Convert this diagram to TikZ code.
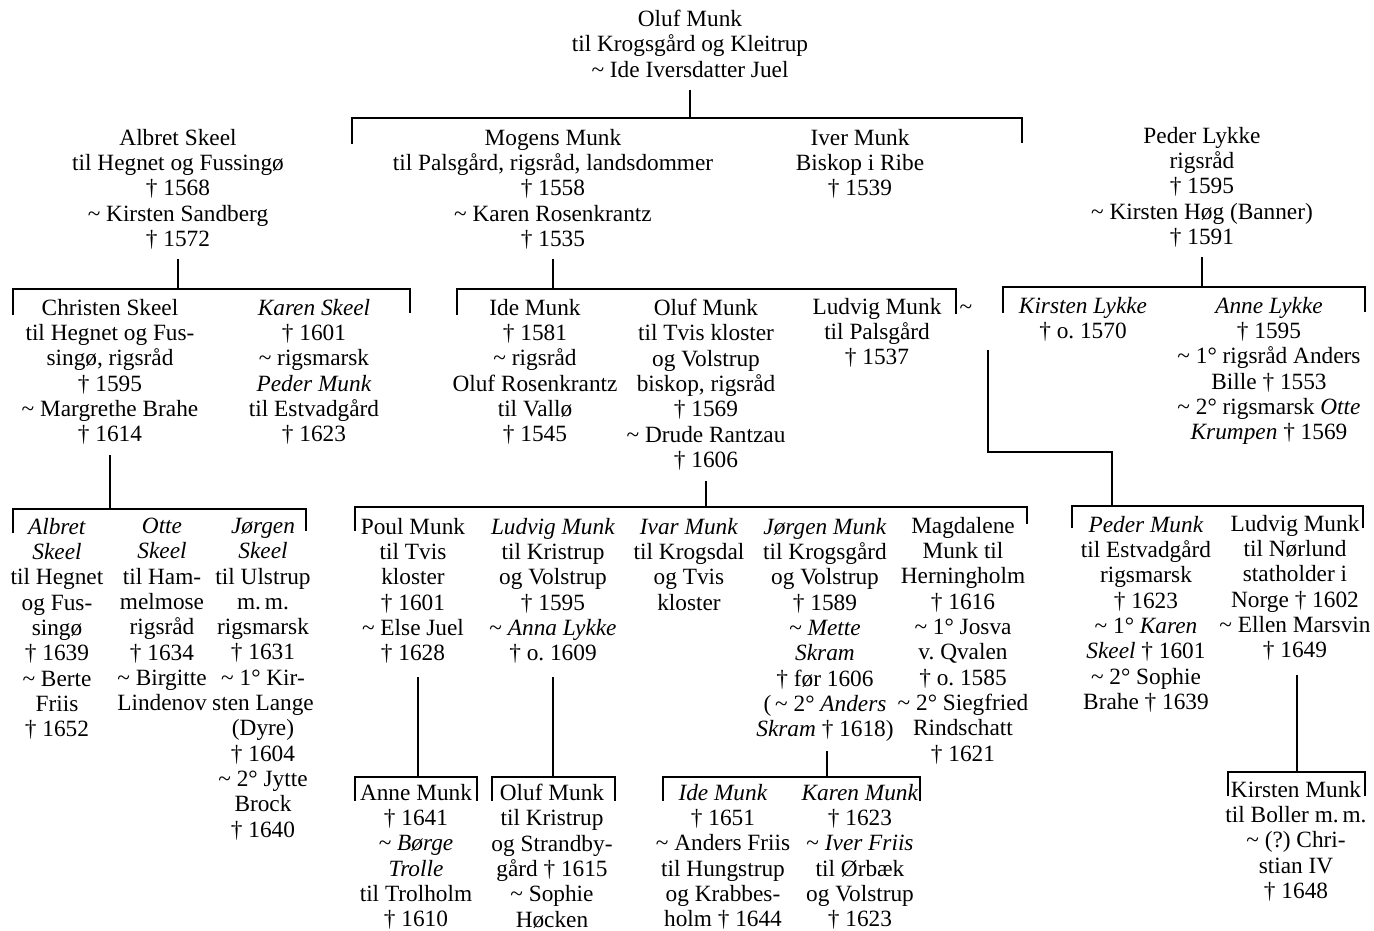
\documentclass[tikz,border=0pt]{standalone}
\usepackage{fontspec}
\setmainfont{Liberation Serif}
\newcommand\chf{\fontsize{23.3}{25.3}\selectfont\frenchspacing}
\newcommand\fst{\rule{0pt}{17pt}}
\newcommand\sw{\textasciitilde}
\newcommand\dg{†}
\begin{document}
\begin{tikzpicture}[x=1pt,y=-1pt,
  person/.style={align=center, inner sep=0pt, anchor=north, yshift=10pt, font=\chf, execute at begin node=\fst},
  ln/.style={line width=1.6pt, line cap=rect}]
\fill[white] (0,0) rectangle (1374,931);
\useasboundingbox (0,0) rectangle (1374,931);

% ---------- generation 0
\node[person] (oluf0) at (690,20) {Oluf Munk\\til Krogsgård og Kleitrup\\\sw\ Ide Iversdatter Juel};

% ---------- generation 1
\node[person] (albret1) at (178,139) {Albret Skeel\\til Hegnet og Fussingø\\\dg\ 1568\\\sw\ Kirsten Sandberg\\\dg\ 1572};
\node[person] (mogens) at (553,139) {Mogens Munk\\til Palsgård, rigsråd, landsdommer\\\dg\ 1558\\\sw\ Karen Rosenkrantz\\\dg\ 1535};
\node[person] (iver) at (860,139) {Iver Munk\\Biskop i Ribe\\\dg\ 1539};
\node[person] (pederL) at (1202,137) {Peder Lykke\\rigsråd\\\dg\ 1595\\\sw\ Kirsten Høg (Banner)\\\dg\ 1591};

% ---------- generation 2
\node[person] (christen) at (110,309) {Christen Skeel\\til Hegnet og Fus-\\singø, rigsråd\\\dg\ 1595\\\sw\ Margrethe Brahe\\\dg\ 1614};
\node[person] (karenS) at (314,309) {\textit{Karen Skeel}\\\dg\ 1601\\\sw\ rigsmarsk\\\textit{Peder Munk}\\til Estvadgård\\\dg\ 1623};
\node[person] (ide) at (535,309) {Ide Munk\\\dg\ 1581\\\sw\ rigsråd\\Oluf Rosenkrantz\\til Vallø\\\dg\ 1545};
\node[person] (oluf2) at (706,309) {Oluf Munk\\til Tvis kloster\\og Volstrup\\biskop, rigsråd\\\dg\ 1569\\\sw\ Drude Rantzau\\\dg\ 1606};
\node[person] (ludvig2) at (877,308) {Ludvig Munk\\til Palsgård\\\dg\ 1537};
\node[person] (marr) at (966,307) {\sw};
\node[person] (kirstenL) at (1083,307) {\textit{Kirsten Lykke}\\\dg\ o. 1570};
\node[person] (anneL) at (1269,307) {\textit{Anne Lykke}\\\dg\ 1595\\\sw\ 1° rigsråd Anders\\Bille \dg\ 1553\\\sw\ 2° rigsmarsk \textit{Otte}\\\textit{Krumpen} \dg\ 1569};

% ---------- generation 3
\node[person] (albret3) at (57,528) {\textit{Albret}\\\textit{Skeel}\\til Hegnet\\og Fus-\\singø\\\dg\ 1639\\\sw\ Berte\\Friis\\\dg\ 1652};
\node[person] (otte) at (162,528) {\textit{Otte}\\\textit{Skeel}\\til Ham-\\melmose\\rigsråd\\\dg\ 1634\\\sw\ Birgitte\\Lindenov};
\node[person] (jorgenS) at (263,528) {\textit{Jørgen}\\\textit{Skeel}\\til Ulstrup\\m.\,m.\\rigsmarsk\\\dg\ 1631\\\sw\ 1° Kir-\\sten Lange\\(Dyre)\\\dg\ 1604\\\sw\ 2° Jytte\\Brock\\\dg\ 1640};
\node[person] (poul) at (413,528) {Poul Munk\\til Tvis\\kloster\\\dg\ 1601\\\sw\ Else Juel\\\dg\ 1628};
\node[person] (ludvig3) at (553,528) {\textit{Ludvig Munk}\\til Kristrup\\og Volstrup\\\dg\ 1595\\\sw\ \textit{Anna Lykke}\\\dg\ o. 1609};
\node[person] (ivar) at (689,528) {\textit{Ivar Munk}\\til Krogsdal\\og Tvis\\kloster};
\node[person] (jorgenM) at (825,528) {\textit{Jørgen Munk}\\til Krogsgård\\og Volstrup\\\dg\ 1589\\\sw\ \textit{Mette}\\\textit{Skram}\\\dg\ før 1606\\(\,\sw\ 2° \textit{Anders}\\\textit{Skram} \dg\ 1618)};
\node[person] (magdalene) at (963,527) {Magdalene\\Munk til\\Herningholm\\\dg\ 1616\\\sw\ 1° Josva\\v. Qvalen\\\dg\ o. 1585\\\sw\ 2° Siegfried\\Rindschatt\\\dg\ 1621};
\node[person] (pederM) at (1146,526) {\textit{Peder Munk}\\til Estvadgård\\rigsmarsk\\\dg\ 1623\\\sw\ 1° \textit{Karen}\\\textit{Skeel} \dg\ 1601\\\sw\ 2° Sophie\\Brahe \dg\ 1639};
\node[person] (ludvigN) at (1295,525) {Ludvig Munk\\til Nørlund\\statholder i\\Norge \dg\ 1602\\\sw\ Ellen Marsvin\\\dg\ 1649};

% ---------- generation 4
\node[person] (anneM) at (416,794) {Anne Munk\\\dg\ 1641\\\sw\ \textit{Børge}\\\textit{Trolle}\\til Trolholm\\\dg\ 1610};
\node[person] (olufK) at (552,794) {Oluf Munk\\til Kristrup\\og Strandby-\\gård \dg\ 1615\\\sw\ Sophie\\Høcken};
\node[person] (ideM) at (723,794) {\textit{Ide Munk}\\\dg\ 1651\\\sw\ Anders Friis\\til Hungstrup\\og Krabbes-\\holm \dg\ 1644};
\node[person] (karenM) at (860,794) {\textit{Karen Munk}\\\dg\ 1623\\\sw\ \textit{Iver Friis}\\til Ørbæk\\og Volstrup\\\dg\ 1623};
\node[person] (kirstenM) at (1296,791) {Kirsten Munk\\til Boller m.\,m.\\\sw\ (?) Chri-\\stian IV\\\dg\ 1648};

% ---------- brackets (sibling groups)
\coordinate (j0) at (690,118);
\draw[ln] (352,143) -- (352,118) -- (1022,118) -- (1022,142);
\coordinate (j1a) at (178,289);
\draw[ln] (13,314) -- (13,289) -- (410,289) -- (410,312);
\coordinate (j1b) at (553,289);
\draw[ln] (457,314) -- (457,289) -- (956,289) -- (956,313);
\coordinate (j1c) at (1202,287);
\draw[ln] (1003,312) -- (1003,287) -- (1365,287) -- (1365,311);
\coordinate (j2a) at (110,509);
\draw[ln] (13,532) -- (13,509) -- (306,509) -- (306,530);
\coordinate (j2b) at (706,507);
\draw[ln] (355,530) -- (355,507) -- (1027,507) -- (1027,523);
\coordinate (j2c) at (1112,506);
\draw[ln] (1072,527) -- (1072,506) -- (1363,506) -- (1363,527);
\coordinate (j3a) at (418,777);
\draw[ln] (355,800) -- (355,777) -- (477,777) -- (477,800);
\coordinate (j3b) at (553,777);
\draw[ln] (492,800) -- (492,777) -- (615,777) -- (615,800);
\coordinate (j3c) at (827,777);
\draw[ln] (663,800) -- (663,777) -- (920,777) -- (920,800);
\coordinate (j3d) at (1297,772);
\draw[ln] (1228,795) -- (1228,772) -- (1365,772) -- (1365,795);

% ---------- descent lines
\draw[ln] (oluf0.south |- 0,91) -- (j0);
\draw[ln] (albret1.south |- 0,260) -- (j1a);
\draw[ln] (mogens.south |- 0,260) -- (j1b);
\draw[ln] (pederL.south |- 0,258) -- (j1c);
\draw[ln] (christen.south |- 0,456) -- (j2a);
\draw[ln] (oluf2.south |- 0,482) -- (j2b);
\coordinate (mk) at (988,351);
\draw[ln] (mk) -- (988,452) -- (1112,452) -- (j2c);
\draw[ln] (j3a |- 0,678) -- (j3a);
\draw[ln] (j3b |- 0,678) -- (j3b);
\draw[ln] (j3c |- 0,752) -- (j3c);
\draw[ln] (j3d |- 0,676) -- (j3d);
\end{tikzpicture}
\end{document}
